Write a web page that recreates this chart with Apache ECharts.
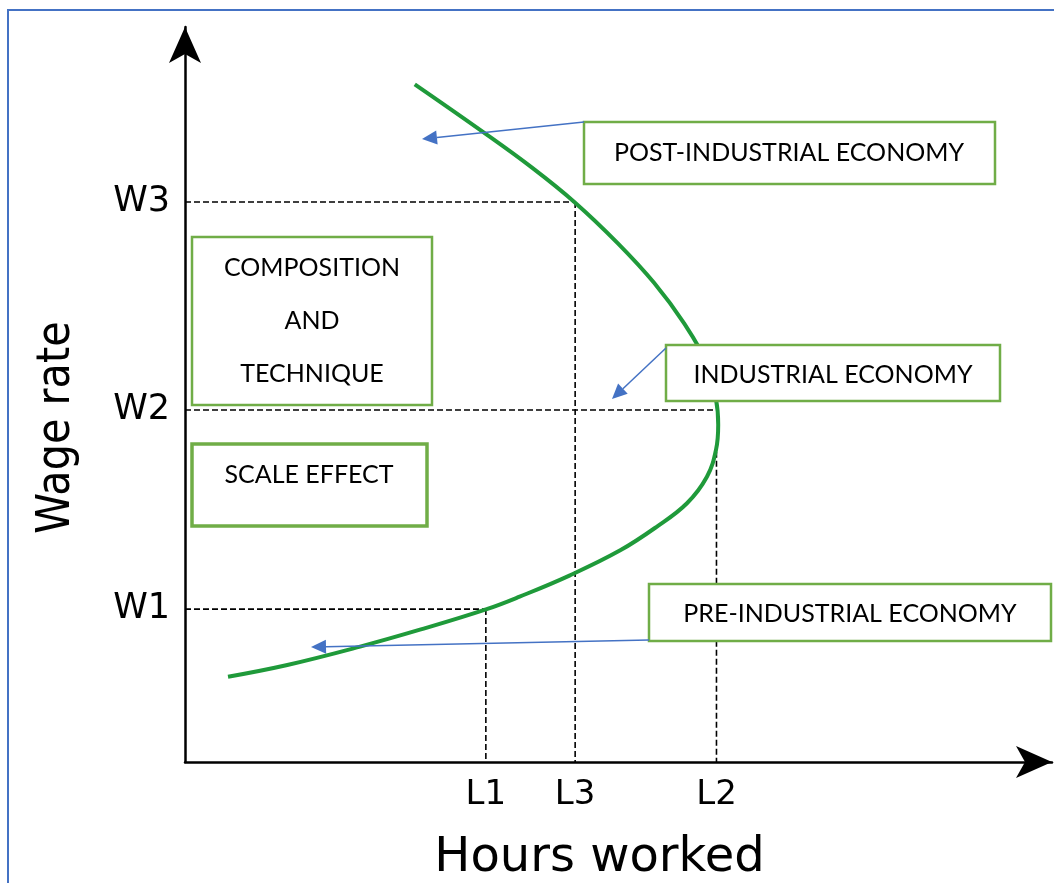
<!DOCTYPE html>
<html>
<head>
<meta charset="utf-8">
<script src="https://cdn.jsdelivr.net/npm/echarts@6/dist/echarts.min.js"></script>
<style>
html,body{margin:0;padding:0;background:#fff;}
#chart{width:1054px;height:883px;}
</style>
</head>
<body>
<div id="chart"></div>
<script>
// Labour supply curve (hours worked vs wage rate), arbitrary units 0..100
const curveHours = [4.96, 11.8, 20.2, 27.1, 34.8, 38.6, 44.4, 50.2, 54.4, 57.9, 60.2, 61.25, 61.5, 61.25, 60.1, 57.55, 54.1, 49.9, 45.0, 40.1, 34.4, 26.5];
const curveWage  = [11.6, 13.2, 15.7, 18.0, 20.8, 22.5, 25.4, 28.8, 32.0, 35.2, 38.8, 42.5, 45.9, 49.3, 54.4, 59.7, 65.2, 70.6, 76.1, 80.8, 85.7, 92.2];

const wageTickLabels = ['W1', 'W2', 'W3'];
const wageTickValues = [20.8, 47.9, 76.2];
const hourTickLabels = ['L1', 'L2', 'L3'];
const hourTickValues = [34.7, 61.3, 45.0];
const hourDropTops   = [20.8, 42.2, 76.2]; // where each vertical guide starts

const boxTexts = {
  post: 'POST-INDUSTRIAL ECONOMY',
  industrial: 'INDUSTRIAL ECONOMY',
  pre: 'PRE-INDUSTRIAL ECONOMY',
  comp: ['COMPOSITION', 'AND', 'TECHNIQUE'],
  scale: 'SCALE EFFECT'
};

const chart = echarts.init(document.getElementById('chart'), null, {renderer: 'canvas'});

const dashStyle = {color: '#000', width: 1.6, type: [6, 3]};
const guideSeries = [];
for (let i = 0; i < wageTickValues.length; i++) {
  guideSeries.push({
    type: 'line', symbol: 'none', silent: true, z: 1,
    lineStyle: dashStyle,
    data: [[0, wageTickValues[i]], [hourTickValues[i], wageTickValues[i]]]
  });
  guideSeries.push({
    type: 'line', symbol: 'none', silent: true, z: 1,
    lineStyle: dashStyle,
    data: [[hourTickValues[i], hourDropTops[i]], [hourTickValues[i], 0]]
  });
}

const GREEN = '#70AD47';
const BLUE = '#4472C4';
const BOXFONT = 'Lato, "Open Sans", sans-serif';

function box(x, y, w, h, lw) {
  return {type: 'rect', shape: {x: x, y: y, width: w, height: h},
          style: {fill: '#fff', stroke: GREEN, lineWidth: lw}, z: 5};
}
function label(x, y, t) {
  return {type: 'text', x: x, y: y, z: 6,
          style: {text: t, fill: '#000', font: '25px ' + BOXFONT, align: 'center', verticalAlign: 'middle'}};
}
function arrow(x1, y1, x2, y2) {
  const dx = x2 - x1, dy = y2 - y1, len = Math.sqrt(dx*dx + dy*dy);
  const ux = dx/len, uy = dy/len, hl = 15, hw = 7;
  const bx = x2 - ux*hl, by = y2 - uy*hl;
  return [
    {type: 'line', shape: {x1: x1, y1: y1, x2: bx, y2: by}, style: {stroke: BLUE, lineWidth: 1.5}, z: 7},
    {type: 'polygon', shape: {points: [[x2, y2], [bx - uy*hw, by + ux*hw], [bx + uy*hw, by - ux*hw]]},
     style: {fill: BLUE}, z: 7}
  ];
}

const graphics = [
  {type: 'rect', shape: {x: 8, y: 10, width: 1200, height: 1000}, style: {fill: 'none', stroke: BLUE, lineWidth: 2}, z: 0, silent: true},
  box(584, 122, 411, 62, 2.5), label(789, 153, boxTexts.post),
  box(192, 237, 240, 168, 2.5),
  label(312, 268, boxTexts.comp[0]), label(312, 321, boxTexts.comp[1]), label(312, 374, boxTexts.comp[2]),
  box(192, 444, 235, 82, 3.5), label(309, 475, boxTexts.scale),
  box(666, 345, 334, 56, 2.5), label(833, 375, boxTexts.industrial),
  box(649, 584, 402, 57, 2.5), label(850, 614, boxTexts.pre)
].concat(arrow(584, 122, 422, 139), arrow(666, 348, 612, 399), arrow(649, 640, 311, 647));

chart.setOption({
  animation: false,
  backgroundColor: '#fff',
  grid: {left: 185, top: 27, width: 867, height: 735, containLabel: false, outerBoundsMode: 'none'},
  xAxis: {
    type: 'value', min: 0, max: 100,
    name: 'Hours worked', nameLocation: 'middle', nameGap: 73,
    nameTextStyle: {fontFamily: 'DejaVu Sans', fontSize: 48, color: '#000', padding: [0, 38, 0, 0]},
    axisLine: {show: true, symbol: ['none', 'arrow'], symbolSize: [24, 36], symbolOffset: [0, 0],
               lineStyle: {color: '#000', width: 2.5}},
    axisTick: {show: false},
    splitLine: {show: false},
    axisLabel: {
      customValues: hourTickValues, margin: 16,
      fontFamily: 'DejaVu Sans', fontSize: 34, color: '#000',
      formatter: function (v) { const i = hourTickValues.indexOf(v); return i >= 0 ? hourTickLabels[i] : ''; }
    }
  },
  yAxis: {
    type: 'value', min: 0, max: 100,
    name: 'Wage rate', nameLocation: 'middle', nameGap: 105, nameRotate: 90,
    nameTextStyle: {fontFamily: '"DejaVu Sans Condensed", "DejaVu Sans"', fontSize: 46, color: '#000', padding: [0, 66, 0, 0]},
    axisLine: {show: true, symbol: ['none', 'arrow'], symbolSize: [24, 36], symbolOffset: [0, 0],
               lineStyle: {color: '#000', width: 2.5}},
    axisTick: {show: false},
    splitLine: {show: false},
    axisLabel: {
      customValues: wageTickValues, margin: 15,
      fontFamily: 'DejaVu Sans', fontSize: 35, color: '#000',
      formatter: function (v) { const i = wageTickValues.indexOf(v); return i >= 0 ? wageTickLabels[i] : ''; }
    }
  },
  series: guideSeries.concat([{
    type: 'line', name: 'Labour supply', symbol: 'none', smooth: 0.4, z: 3,
    lineStyle: {color: '#1f9a3a', width: 4},
    data: curveHours.map(function (h, i) { return [h, curveWage[i]]; })
  }]),
  graphic: graphics
});
</script>
</body>
</html>
